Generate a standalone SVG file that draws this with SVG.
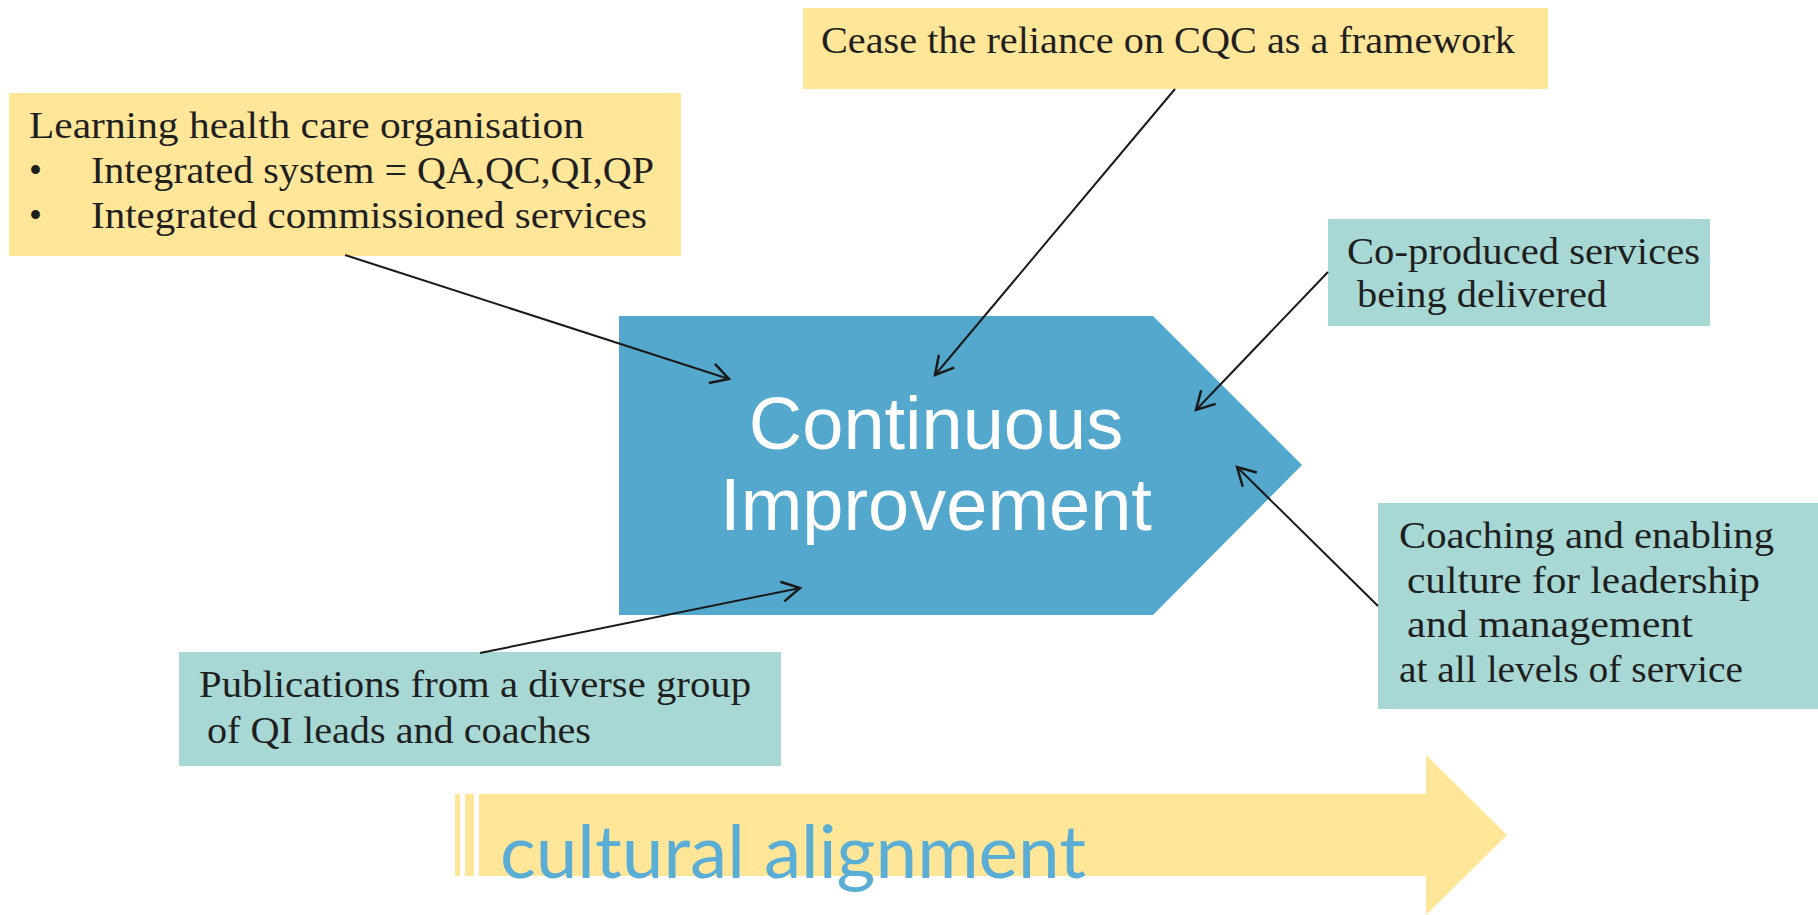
<svg xmlns="http://www.w3.org/2000/svg" width="1818" height="915" viewBox="0 0 1818 915">
<style>
.ybox{fill:#FFE699}
.tbox{fill:#A8D8D5}
.st{font-family:"Liberation Serif","Times New Roman",serif;font-size:37px;fill:#1f1f1f}
.ci{font-family:"Liberation Sans",Arial,sans-serif;font-size:74px;fill:#ffffff;text-anchor:middle}
.con{stroke:#1a1a1a;stroke-width:2;fill:none}
.ca{font-family:Lato,"Open Sans",sans-serif;font-size:74px;fill:#5AADD5}
</style>
<defs>
<marker id="arr" markerUnits="userSpaceOnUse" viewBox="-24 -14 28 28" refX="0" refY="0" markerWidth="28" markerHeight="28" orient="auto" overflow="visible">
<path d="M-18,-10 L0,0 L-18,10" fill="none" stroke="#1a1a1a" stroke-width="2.5"/>
</marker>
</defs>
<rect width="1818" height="915" fill="#ffffff"/>

<g id="cultural-alignment">
<rect x="455" y="794" width="5" height="82" fill="#FFE699"/>
<rect x="465" y="794" width="9" height="82" fill="#FFE699"/>
<polygon points="479,794 1426,794 1426,755 1507,835 1426,915 1426,876 479,876" fill="#FFE699"/>
<text class="ca" x="500" y="878" textLength="586" lengthAdjust="spacingAndGlyphs">cultural alignment</text>
</g>

<g id="continuous-improvement">
<polygon points="619,316 1153,316 1302,465 1153,615 619,615" fill="#54A8CE"/>
<text class="ci" x="936" y="449">Continuous</text>
<text class="ci" x="936" y="530">Improvement</text>
</g>

<g id="learning">
<rect class="ybox" x="9" y="93" width="672" height="163"/>
<text class="st" x="29" y="138" textLength="555" lengthAdjust="spacingAndGlyphs">Learning health care organisation</text>
<text class="st" x="29" y="183">•</text>
<text class="st" x="91" y="183" textLength="563" lengthAdjust="spacingAndGlyphs">Integrated system = QA,QC,QI,QP</text>
<text class="st" x="29" y="228">•</text>
<text class="st" x="91" y="228" textLength="556" lengthAdjust="spacingAndGlyphs">Integrated commissioned services</text>
</g>

<g id="cease">
<rect class="ybox" x="803" y="8" width="745" height="81"/>
<text class="st" x="821" y="53" textLength="694" lengthAdjust="spacingAndGlyphs">Cease the reliance on CQC as a framework</text>
</g>

<g id="coproduced">
<rect class="tbox" x="1328" y="219" width="382" height="107"/>
<text class="st" x="1347" y="264" textLength="353" lengthAdjust="spacingAndGlyphs">Co-produced services</text>
<text class="st" x="1357" y="307" textLength="250" lengthAdjust="spacingAndGlyphs">being delivered</text>
</g>

<g id="coaching">
<rect class="tbox" x="1378" y="503" width="440" height="206"/>
<text class="st" x="1399" y="548" textLength="375" lengthAdjust="spacingAndGlyphs">Coaching and enabling</text>
<text class="st" x="1407" y="593" textLength="353" lengthAdjust="spacingAndGlyphs">culture for leadership</text>
<text class="st" x="1407" y="637" textLength="286" lengthAdjust="spacingAndGlyphs">and management</text>
<text class="st" x="1399" y="682" textLength="344" lengthAdjust="spacingAndGlyphs">at all levels of service</text>
</g>

<g id="publications">
<rect class="tbox" x="179" y="652" width="602" height="114"/>
<text class="st" x="199" y="697" textLength="552" lengthAdjust="spacingAndGlyphs">Publications from a diverse group</text>
<text class="st" x="207" y="743" textLength="384" lengthAdjust="spacingAndGlyphs">of QI leads and coaches</text>
</g>

<g id="connectors">
<line class="con" x1="345" y1="255" x2="729" y2="379" marker-end="url(#arr)"/>
<line class="con" x1="1175" y1="89" x2="935" y2="375" marker-end="url(#arr)"/>
<line class="con" x1="1328" y1="272" x2="1196" y2="410" marker-end="url(#arr)"/>
<line class="con" x1="1378" y1="606" x2="1237" y2="467" marker-end="url(#arr)"/>
<line class="con" x1="480" y1="653" x2="800" y2="588" marker-end="url(#arr)"/>
</g>
</svg>
